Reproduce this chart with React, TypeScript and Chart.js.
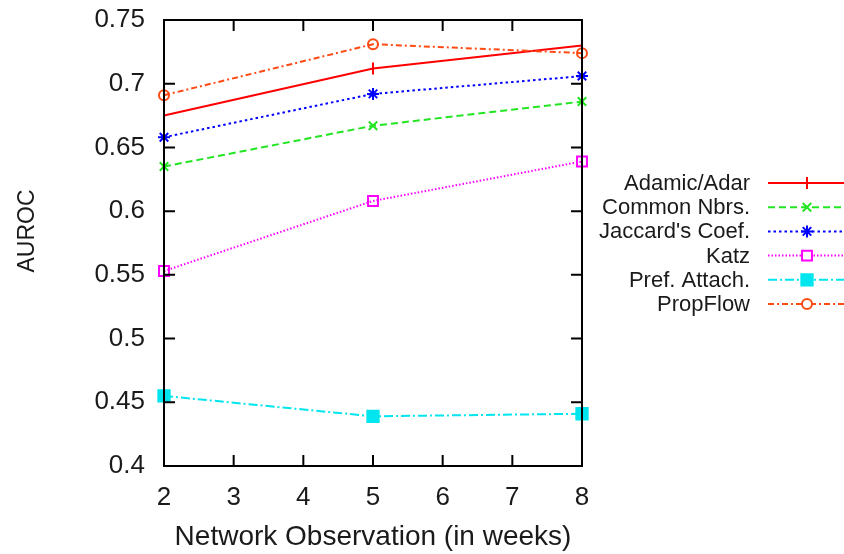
import React, { useEffect, useRef } from "react";
import { Chart, registerables } from "chart.js";
import { drawPoint } from "chart.js/helpers";

Chart.register(...registerables);

// Observation window lengths (weeks)
const weeks = [2, 5, 8];

// AUROC per predictor
const adamicAdar = [0.675, 0.712, 0.730];
const commonNbrs = [0.635, 0.667, 0.686];
const jaccardCoef = [0.658, 0.692, 0.706];
const katz = [0.553, 0.608, 0.639];
const prefAttach = [0.455, 0.439, 0.441];
const propFlow = [0.691, 0.731, 0.724];

const seriesNames = [
  "Adamic/Adar",
  "Common Nbrs.",
  "Jaccard's Coef.",
  "Katz",
  "Pref. Attach.",
  "PropFlow",
];

const yTickValues = [0.4, 0.45, 0.5, 0.55, 0.6, 0.65, 0.7, 0.75];
const xTickValues = [2, 3, 4, 5, 6, 7, 8];
const yAxisTitle = "AUROC";

const FONT = "'Liberation Sans', Arial, Helvetica, sans-serif";

type Style = {
  color: string;
  dash: number[];
  pointStyle: string;
  radius: number;
  fill: boolean;
};

const styles: Style[] = [
  { color: "#ff0000", dash: [], pointStyle: "line", radius: 6, fill: false },
  { color: "#22e622", dash: [7, 4], pointStyle: "crossRot", radius: 6, fill: false },
  { color: "#0000ff", dash: [2.5, 3], pointStyle: "star", radius: 6, fill: false },
  { color: "#ff00ff", dash: [1.5, 2], pointStyle: "rect", radius: 7, fill: false },
  { color: "#00e5ee", dash: [9, 3, 2, 3], pointStyle: "rect", radius: 8, fill: true },
  { color: "#ff4a14", dash: [6, 3, 2, 3], pointStyle: "circle", radius: 5, fill: false },
];

const seriesValues = [adamicAdar, commonNbrs, jaccardCoef, katz, prefAttach, propFlow];

// Frame around the plot with inward tick marks on all four sides
const framePlugin = {
  id: "frame",
  afterDatasetsDraw(chart: any) {
    const { ctx, chartArea, scales } = chart;
    const { left, right, top, bottom } = chartArea;
    const len = 11;
    ctx.save();
    ctx.strokeStyle = "#000";
    ctx.lineWidth = 2;
    ctx.setLineDash([]);
    ctx.beginPath();
    for (const v of yTickValues) {
      const y = scales.y.getPixelForValue(v);
      ctx.moveTo(left, y);
      ctx.lineTo(left + len, y);
      ctx.moveTo(right, y);
      ctx.lineTo(right - len, y);
    }
    for (const v of xTickValues) {
      const x = scales.x.getPixelForValue(v);
      ctx.moveTo(x, bottom);
      ctx.lineTo(x, bottom - len);
      ctx.moveTo(x, top);
      ctx.lineTo(x, top + len);
    }
    ctx.stroke();
    ctx.strokeRect(left, top, right - left, bottom - top);

    // vertical axis title, set a little above the plot's middle
    ctx.save();
    ctx.translate(28, 231);
    ctx.rotate(-Math.PI / 2);
    ctx.font = `23px ${FONT}`;
    ctx.fillStyle = "#1a1a1a";
    ctx.textAlign = "center";
    ctx.textBaseline = "middle";
    ctx.fillText(yAxisTitle, 0, 0);
    ctx.restore();
    ctx.restore();
  },
};

// Key to the right of the plot: label, then a line sample with its marker
const keyPlugin = {
  id: "key",
  afterDraw(chart: any) {
    const { ctx } = chart;
    const textRight = 750;
    const lineStart = 768;
    const lineEnd = 844;
    const markX = 807;
    const firstY = 183;
    const step = 24.2;
    ctx.save();
    ctx.font = `22px ${FONT}`;
    ctx.textAlign = "right";
    ctx.textBaseline = "middle";
    chart.data.datasets.forEach((ds: any, i: number) => {
      const s = styles[i];
      const y = firstY + i * step;
      ctx.fillStyle = "#1a1a1a";
      ctx.fillText(ds.label, textRight, y + 1);
      ctx.strokeStyle = s.color;
      ctx.lineWidth = 2;
      ctx.setLineDash(s.dash);
      ctx.beginPath();
      ctx.moveTo(lineStart, y);
      ctx.lineTo(lineEnd, y);
      ctx.stroke();
      ctx.setLineDash([]);
      ctx.fillStyle = s.fill ? s.color : "#ffffff";
      ctx.strokeStyle = s.color;
      ctx.lineWidth = 2;
      drawPoint(ctx, {
        pointStyle: s.pointStyle,
        radius: s.radius,
        rotation: s.pointStyle === "line" ? 90 : 0,
        borderWidth: 2,
      } as any, markX, y);
    });
    ctx.restore();
  },
};

export default function App() {
  const ref = useRef<HTMLCanvasElement | null>(null);

  useEffect(() => {
    if (!ref.current) return;
    const datasets = seriesValues.map((vals, i) => {
      const s = styles[i];
      return {
        label: seriesNames[i],
        data: vals.map((v, j) => ({ x: weeks[j], y: v })),
        borderColor: s.color,
        backgroundColor: s.fill ? s.color : "#ffffff",
        borderWidth: 2,
        borderDash: s.dash,
        pointStyle: s.pointStyle,
        pointRotation: s.pointStyle === "line" ? 90 : 0,
        pointRadius: s.radius,
        pointBorderWidth: 2,
        pointBorderColor: s.color,
        pointBackgroundColor: s.fill ? s.color : "rgba(0,0,0,0)",
        tension: 0,
        fill: false,
        clip: false,
        order: 6 - i,
      };
    });

    const chart = new Chart(ref.current, {
      type: "line",
      data: { datasets } as any,
      options: {
        animation: false,
        responsive: false,
        maintainAspectRatio: false,
        layout: { padding: { left: 0, right: 262, top: 20, bottom: 0 } },
        plugins: {
          legend: { display: false },
          tooltip: { enabled: false },
        },
        scales: {
          x: {
            type: "linear",
            min: 2,
            max: 8,
            afterFit: (scale: any) => {
              scale.height = 88;
              scale.paddingLeft = 0;
              scale.paddingRight = 0;
            },
            afterBuildTicks: (scale: any) => {
              scale.ticks = xTickValues.map((v) => ({ value: v }));
            },
            grid: { display: false, drawTicks: false },
            border: { display: false },
            ticks: {
              padding: 16,
              color: "#1a1a1a",
              font: { family: FONT, size: 26 },
              maxRotation: 0,
              autoSkip: false,
              callback: (v: any) => String(v),
            },
            title: {
              display: true,
              text: "Network Observation (in weeks)",
              color: "#1a1a1a",
              font: { family: FONT, size: 28 },
              padding: { top: 0, bottom: 0 },
            },
          },
          y: {
            type: "linear",
            min: 0.4,
            max: 0.75,
            afterFit: (scale: any) => {
              scale.width = 164;
              scale.paddingTop = 0;
              scale.paddingBottom = 0;
            },
            afterBuildTicks: (scale: any) => {
              scale.ticks = yTickValues.map((v) => ({ value: v }));
            },
            grid: { display: false, drawTicks: false },
            border: { display: false },
            ticks: {
              padding: 19,
              color: "#1a1a1a",
              font: { family: FONT, size: 26 },
              autoSkip: false,
              callback: (v: any) => String(+Number(v).toFixed(2)),
            },
            title: { display: false },
          },
        },
      } as any,
      plugins: [framePlugin, keyPlugin],
    });
    return () => chart.destroy();
  }, []);

  return (
    <div style={{ position: "absolute", left: 0, top: 0, width: 844, height: 554, background: "#fff" }}>
      <canvas ref={ref} width={844} height={554} style={{ width: 844, height: 554 }} />
    </div>
  );
}
